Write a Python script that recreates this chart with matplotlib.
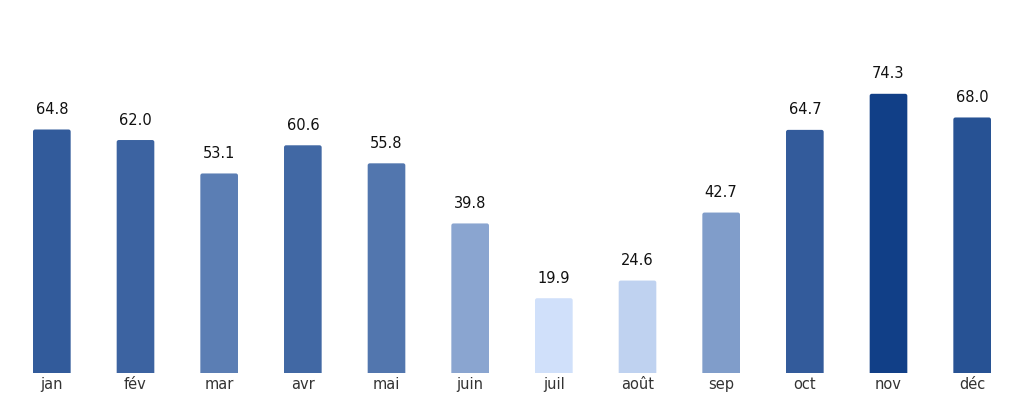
import matplotlib
matplotlib.use("Agg")
import matplotlib.pyplot as plt
from matplotlib.patches import FancyBboxPatch
import numpy as np

plt.rcParams["font.family"] = ["DejaVu Sans"]

months = ["jan", "fév", "mar", "avr", "mai", "juin", "juil", "août", "sep", "oct", "nov", "déc"]
values = [64.8, 62.0, 53.1, 60.6, 55.8, 39.8, 19.9, 24.6, 42.7, 64.7, 74.3, 68.0]

light = np.array([208, 224, 250]) / 255
dark = np.array([17, 63, 135]) / 255
vmin, vmax = min(values), max(values)
colors = [tuple(light + (dark - light) * (v - vmin) / (vmax - vmin)) for v in values]

fig = plt.figure(figsize=(10.24, 4.04), dpi=100)
ax = fig.add_axes([10 / 1024, 31 / 404, 1004 / 1024, 363 / 404])
x = np.arange(len(months))
bars = ax.bar(x, values, width=0.45, color=colors, linewidth=0)
ax.set_xlim(-0.5, len(months) - 0.5)
ax.set_ylim(0, 96.6)
# rounded tops
r_x = 0.025
aspect = (96.6 / 363) / (1.0 / 83.7)
for b, c in zip(bars, colors):
    b.set_visible(False)
    p = FancyBboxPatch((b.get_x(), -2), b.get_width(), b.get_height() + 2,
                       boxstyle=f"round,pad=0,rounding_size={r_x}",
                       mutation_aspect=aspect, facecolor=c, edgecolor="none")
    ax.add_patch(p)
for xi, v in zip(x, values):
    ax.text(xi, v + 3.3, f"{v:.1f}", ha="center", va="bottom", fontsize=10.5, color="#111111")
ax.set_xticks(x)
ax.set_xticklabels(months, fontsize=10.5, color="#333333")
ax.tick_params(axis="x", length=0, pad=3)
ax.set_yticks([])
for s in ax.spines.values():
    s.set_visible(False)
fig.savefig("out.png", dpi=100)
